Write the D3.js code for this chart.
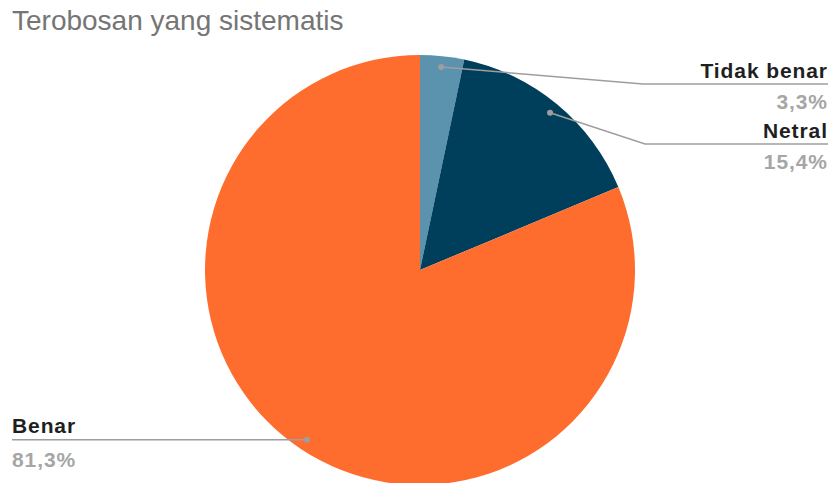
<!DOCTYPE html>
<html>
<head>
  <meta charset="utf-8">
  <style>
    body { margin: 0; background: #fff; }
    text { font-family: "Liberation Sans", Arial, sans-serif; }
  </style>
</head>
<body>
  <script src="https://cdn.jsdelivr.net/npm/d3@7/dist/d3.min.js"></script>
  <script>
    // data
    var labels = ["Tidak benar", "Netral", "Benar"];
    var values = [3.3, 15.4, 81.3];
    var colors = ["#5b93ae", "#003f5c", "#ff6d2e"];

    var width = 833, height = 483;
    var cx = 420, cy = 270, radius = 215;

    var svg = d3.select("body").append("svg")
      .attr("width", width)
      .attr("height", height);

    svg.append("text")
      .text("Terobosan yang sistematis")
      .attr("x", 12)
      .attr("y", 30)
      .attr("fill", "#757575")
      .style("font-size", "28px");

    var pie = d3.pie().sort(null).value(function(d) { return d; });
    var arcs = pie(values);
    var arc = d3.arc().innerRadius(0).outerRadius(radius);
    var dotArc = d3.arc().innerRadius(204).outerRadius(204);

    var g = svg.append("g").attr("transform", "translate(" + cx + "," + cy + ")");

    g.selectAll("path")
      .data(arcs)
      .enter()
      .append("path")
      .attr("d", arc)
      .attr("fill", function(d, i) { return colors[i]; });

    // label layout: elbow point, line end, text anchor
    var layout = [
      {elbow: [643, 84], end: 828, tx: 827, anchor: "end", ny: 78, vy: 109},
      {elbow: [645, 144], end: 828, tx: 827, anchor: "end", ny: 138, vy: 169},
      {elbow: null, end: 12, tx: 12, anchor: "start", ny: 433, vy: 467}
    ];

    var fmt = function(v) { return d3.format(".1f")(v).replace(".", ",") + "%"; };

    arcs.forEach(function(d, i) {
      var c = dotArc.centroid(d);
      var px = cx + c[0], py = cy + c[1];
      var L = layout[i];
      var pts;
      if (L.elbow) {
        pts = [[px, py], L.elbow, [L.end, L.elbow[1]]];
      } else {
        pts = [[px, py], [L.end, py]];
      }
      svg.append("path")
        .attr("d", d3.line()(pts))
        .attr("fill", "none")
        .attr("stroke", "#9e9e9e")
        .attr("stroke-width", 1.5);
      svg.append("circle")
        .attr("cx", px).attr("cy", py).attr("r", 3)
        .attr("fill", "#9e9e9e");
      // trailing letter-spacing shifts end-anchored text, so nudge it back
      var shift = L.anchor === "end" ? 0.9 : 0;
      svg.append("text")
        .text(labels[i])
        .attr("x", L.tx + shift).attr("y", L.ny)
        .attr("text-anchor", L.anchor)
        .attr("fill", "#1f1f1f")
        .style("font-size", "21px")
        .style("letter-spacing", "0.9px")
        .style("font-weight", "bold");
      svg.append("text")
        .text(fmt(values[i]))
        .attr("x", L.tx + shift).attr("y", L.vy)
        .attr("text-anchor", L.anchor)
        .attr("fill", "#a6a6a6")
        .style("font-size", "21px")
        .style("letter-spacing", "0.9px")
        .style("font-weight", "bold");
    });
  </script>
</body>
</html>
